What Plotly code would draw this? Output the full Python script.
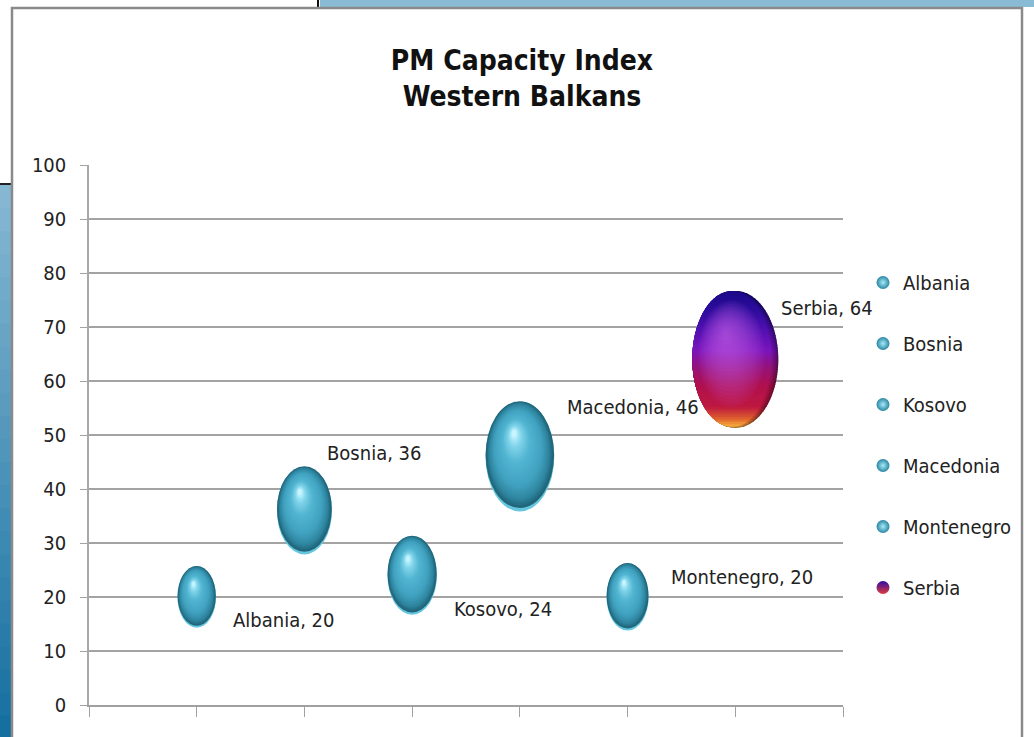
import math
import plotly.graph_objects as go

# ---------------- data ----------------
countries = ["Albania", "Bosnia", "Kosovo", "Macedonia", "Montenegro", "Serbia"]
x_pos = [1, 2, 3, 4, 5, 6]
scores = [20, 36, 24, 46, 20, 64]
bubble_size = [20, 41, 33, 64, 24, 100]   # relative bubble area
y_ticks = list(range(0, 101, 10))
x_ticks = list(range(0, 8))

# ---------------- styling ----------------
FONT = "DejaVu Sans Condensed, Liberation Sans Narrow, Lato, sans-serif"
W, H = 1034, 737
ML, MR, MT, MB = 89, 191, 165, 32
PW, PH = W - ML - MR, H - MT - MB
X_RANGE = [0, 7]
Y_RANGE = [0, 100]
px_x = PW / (X_RANGE[1] - X_RANGE[0])
px_y = PH / (Y_RANGE[1] - Y_RANGE[0])
MAX_W_PX, MAX_H_PX = 43, 68.5     # half-width / half-height of the largest bubble (px)
# label offsets in px (dx to left edge, dy up)
label_offsets = [(34, -23), (21, 58), (40, -34), (45, 50), (41, 20), (44, 51)]
series_style = ["teal", "teal", "teal", "teal", "teal", "serbia"]


def hex2rgb(h):
    h = h.lstrip("#")
    return tuple(int(h[i:i + 2], 16) for i in (0, 2, 4))


def lerp(stops, t, dark=1.0):
    t = max(0.0, min(1.0, t))
    for (t0, c0), (t1, c1) in zip(stops[:-1], stops[1:]):
        if t <= t1:
            f = 0 if t1 == t0 else (t - t0) / (t1 - t0)
            a, b = hex2rgb(c0), hex2rgb(c1)
            return "rgb(%d,%d,%d)" % tuple(round((a[i] + (b[i] - a[i]) * f) * dark) for i in range(3))
    return "rgb(%d,%d,%d)" % tuple(round(v * dark) for v in hex2rgb(stops[-1][1]))


def ellipse(cx, cy, rx, ry, color, opacity=1.0):
    return dict(type="circle", xref="x", yref="y", x0=cx - rx, x1=cx + rx,
                y0=cy - ry, y1=cy + ry, fillcolor=color, opacity=opacity,
                line=dict(width=0), layer="above")


def striped_ellipse(cx, cy, rx, ry, stops, dark=1.0, nst=80):
    out = []
    for j in range(nst):
        f0 = j / nst
        f1 = min(1.0, (j + 1.5) / nst)
        ytop = cy + ry * (1 - 2 * f0)
        ybot = cy + ry * (1 - 2 * f1)
        m = 6
        right, left = [], []
        for q in range(m + 1):
            yy = ytop + (ybot - ytop) * q / m
            u = max(0.0, 1 - ((yy - cy) / ry) ** 2)
            xx = rx * math.sqrt(u)
            right.append((cx + xx, yy))
            left.append((cx - xx, yy))
        pts = right + left[::-1]
        path = "M " + " L ".join("%.5f,%.5f" % p for p in pts) + " Z"
        out.append(dict(type="path", xref="x", yref="y", path=path,
                        fillcolor=lerp(stops, (f0 + f1) / 2, dark),
                        line=dict(width=0), layer="above"))
    return out


TEAL_STOPS = [(0.0, "#21677B"), (0.1, "#2E859F"), (0.3, "#41A2C0"),
              (0.62, "#52B5D1"), (0.84, "#7ED2E8"), (0.95, "#A8E8F8"), (1.0, "#C8F4FF")]
SERB_STOPS = [(0.0, "#1A0A86"), (0.14, "#2C0C9C"), (0.3, "#5410B2"), (0.44, "#7A14BC"),
              (0.56, "#94127E"), (0.7, "#B0104E"), (0.86, "#BE1840"), (0.95, "#E0642C"),
              (1.0, "#F8B040")]
HX, HY = -0.18, 0.42

shapes = []
for i in range(len(countries)):
    cx, cy = x_pos[i], scores[i]
    k = math.sqrt(bubble_size[i] / max(bubble_size))
    rx = MAX_W_PX * k / px_x
    ry = MAX_H_PX * k / px_y
    if series_style[i] == "teal":
        shapes.append(ellipse(cx, cy, rx, ry, "#66C6DE"))
        # base dark layer, leaves a light rim only at the bottom
        shapes.append(ellipse(cx, cy + 0.035 * ry, rx * 0.995, ry * 0.975, lerp(TEAL_STOPS, 0)))
        n = 34
        for j in range(1, n):
            t = j / (n - 1)
            s = 0.97 * (1 - t) + 0.07 * t
            ccx = cx + HX * rx * (1 - s)
            ccy = cy + 0.03 * ry + HY * ry * (1 - s)
            shapes.append(ellipse(ccx, ccy, rx * s, ry * s, lerp(TEAL_STOPS, t)))
    else:
        # shaded shells, darker towards the right rim
        shells = [(0.62, 0.0), (0.72, 0.02), (0.82, 0.04), (0.91, 0.06), (1.0, 0.08)]
        for dk, off in shells:
            shapes += striped_ellipse(cx - off * rx, cy + 0.1 * off * ry, rx * (1 - off),
                                      ry * (1 - 0.12 * off), SERB_STOPS, dark=dk, nst=56)
        n = 18
        for j in range(n):
            t = j / (n - 1)
            s = 0.78 * (1 - t) + 0.08 * t
            ccx = cx - 0.05 * rx + HX * rx * (1 - s)
            ccy = cy + HY * ry * (1 - s) * 0.9
            shapes.append(ellipse(ccx, ccy, rx * s, ry * s, "#CC5EF2", 0.06))

# ---------------- slide decorations (paper coords) ----------------
def px2paper_x(px):
    return (px - ML) / PW


def px2paper_y(py):
    return (H - MB - py) / PH


def prect(x0, y0, x1, y1, fill):
    return dict(type="rect", xref="paper", yref="paper",
                x0=px2paper_x(x0), x1=px2paper_x(x1), y0=px2paper_y(y0), y1=px2paper_y(y1),
                fillcolor=fill, layer="above", line=dict(width=0))


deco = []
deco.append(prect(320, -2, W + 2, 7, "#8ABBD5"))
deco.append(prect(317, -2, 319, 7, "#111111"))
ng = 24
for j in range(ng):
    y0 = 185 + (H + 2 - 185) * j / ng
    y1 = 185 + (H + 2 - 185) * (j + 1.2) / ng
    deco.append(prect(-2, y0, 11, y1, lerp([(0, "#86B7D2"), (1, "#1570A0")], j / (ng - 1))))
deco.append(prect(-2, 183, 12, 185, "#222222"))
deco.append(dict(type="rect", xref="paper", yref="paper",
                 x0=px2paper_x(12), x1=px2paper_x(1022), y0=px2paper_y(H + 10), y1=px2paper_y(8),
                 fillcolor="rgba(0,0,0,0)", layer="above", line=dict(width=2.5, color="#8A8A8A")))

fig = go.Figure()
for i, name in enumerate(countries):
    if series_style[i] == "teal":
        marker = dict(size=13, color="#2A86A2", line=dict(width=0),
                      gradient=dict(type="radial", color="#A8EAFA"))
    else:
        marker = dict(size=13, color="#2E0CA6", line=dict(width=0),
                      gradient=dict(type="vertical", color="#E23A3A"))
    fig.add_trace(go.Scatter(x=[x_pos[i]], y=[scores[i]], mode="markers", name=name,
                             legendgroup=name, marker=marker, hoverinfo="skip"))

annotations = []
for i, name in enumerate(countries):
    dx, dy = label_offsets[i]
    annotations.append(dict(x=x_pos[i], y=scores[i], xref="x", yref="y",
                            text=f"{name}, {scores[i]}", showarrow=False,
                            xanchor="left", yanchor="middle", xshift=dx, yshift=dy,
                            font=dict(family=FONT, size=20, color="#222222")))

fig.update_layout(
    width=W, height=H,
    margin=dict(l=ML, r=MR, t=MT, b=MB, pad=0),
    paper_bgcolor="white", plot_bgcolor="white",
    title=dict(text="<b>PM Capacity Index<br>Western Balkans</b>",
               x=522 / W, xanchor="center", xref="container",
               y=1 - 70 / H, yanchor="middle", yref="container",
               font=dict(family=FONT, size=28, color="#111111")),
    xaxis=dict(range=X_RANGE, tickvals=x_ticks, showticklabels=False, showgrid=False,
               zeroline=False, showline=True, linecolor="#A0A0A0", linewidth=2,
               ticks="outside", ticklen=10, tickcolor="#A0A0A0", tickwidth=1.2),
    yaxis=dict(range=Y_RANGE, tickvals=y_ticks, showgrid=True, gridcolor="#A3A3A3",
               gridwidth=1.5, zeroline=False, showline=True, linecolor="#A8A8A8",
               linewidth=1.5, ticks="outside", ticklen=7, tickcolor="#A3A3A3",
               ticklabelstandoff=10,
               tickfont=dict(family=FONT, size=20, color="#222222")),
    legend=dict(x=px2paper_x(863), xanchor="left", y=px2paper_y(263), yanchor="top",
                font=dict(family=FONT, size=20, color="#222222"), tracegroupgap=32,
                traceorder="grouped", bgcolor="rgba(0,0,0,0)", itemsizing="trace"),
    showlegend=True,
    shapes=deco + shapes,
    annotations=annotations,
)

fig.write_html("out.html", post_script="document.body.style.margin='0';",
               config={"displayModeBar": False})
